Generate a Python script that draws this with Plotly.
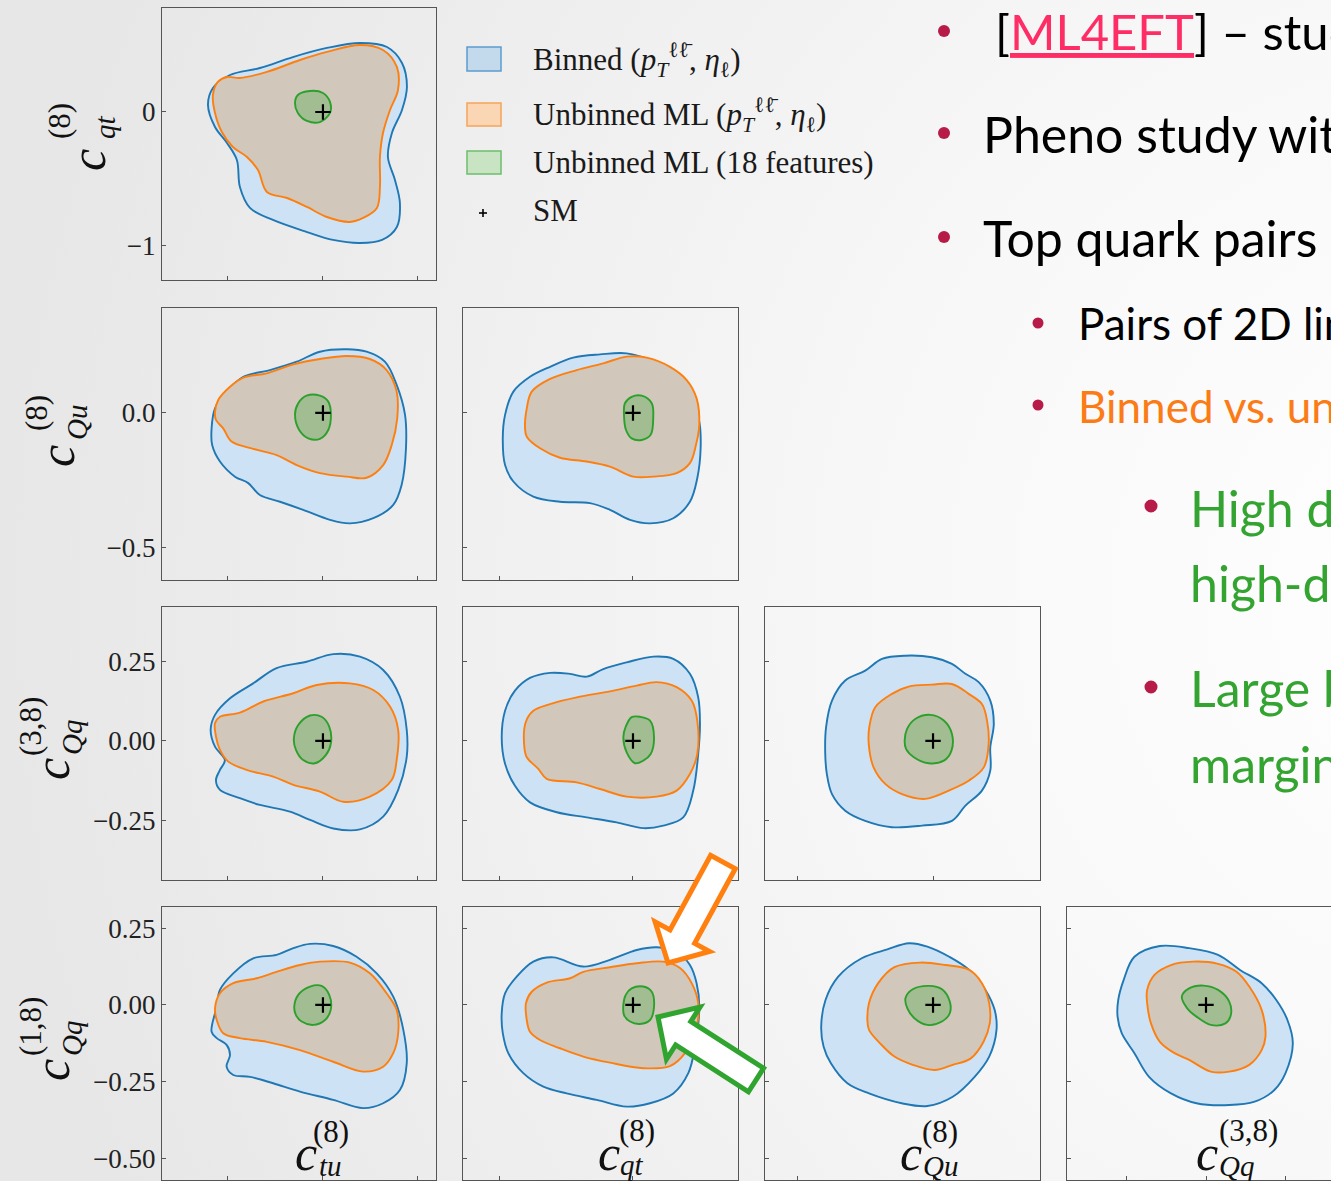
import base64
import plotly.graph_objects as go

W, H = 1331, 1181

# ---------------- data: confidence-region boundaries (data units) ----------------
# panel row 0 : x = c_tu^(8), y = c_qt^(8)
tu_qt_binned = [(-0.605, 0.052), (-0.579, 0.179), (-0.489, 0.276), (-0.332, 0.328), (-0.158, 0.410), (0.021, 0.478),
                (0.195, 0.515), (0.337, 0.485), (0.416, 0.366), (0.442, 0.187), (0.416, 0.015), (0.363, -0.157),
                (0.342, -0.336), (0.379, -0.507), (0.405, -0.679), (0.389, -0.858), (0.311, -0.955), (0.195, -0.978),
                (0.053, -0.955), (-0.084, -0.896), (-0.263, -0.806), (-0.384, -0.716), (-0.437, -0.560), (-0.453, -0.358),
                (-0.505, -0.231), (-0.568, -0.112)]
tu_qt_unbinned = [(-0.579, 0.127), (-0.553, 0.224), (-0.505, 0.261), (-0.437, 0.254), (-0.295, 0.299), (-0.121, 0.388),
                  (0.021, 0.448), (0.195, 0.500), (0.316, 0.463), (0.389, 0.336), (0.395, 0.164), (0.353, 0.015),
                  (0.316, -0.157), (0.300, -0.336), (0.300, -0.560), (0.284, -0.716), (0.211, -0.791), (0.142, -0.821),
                  (0.021, -0.784), (-0.084, -0.709), (-0.189, -0.642), (-0.295, -0.597), (-0.342, -0.433), (-0.400, -0.336),
                  (-0.474, -0.261), (-0.532, -0.149), (-0.568, -0.007)]
tu_qt_ml18 = [(-0.147, 0.067), (-0.132, 0.127), (-0.068, 0.157), (0.0, 0.142), (0.037, 0.075), (0.037, -0.007),
              (-0.016, -0.075), (-0.084, -0.067), (-0.132, -0.007)]

# row 1 : y = c_Qu^(8)
tu_Qu_binned = [(-0.586, -0.057), (-0.568, 0.017), (-0.507, 0.079), (-0.419, 0.134), (-0.279, 0.159), (-0.138, 0.190),
                (-0.016, 0.227), (0.125, 0.236), (0.230, 0.227), (0.326, 0.190), (0.388, 0.104), (0.432, -0.007),
                (0.437, -0.131), (0.414, -0.267), (0.370, -0.341), (0.265, -0.390), (0.142, -0.409), (0.037, -0.396),
                (-0.104, -0.359), (-0.226, -0.329), (-0.332, -0.304), (-0.393, -0.260), (-0.463, -0.236), (-0.542, -0.180),
                (-0.583, -0.119)]
tu_Qu_unbinned = [(-0.568, 0.005), (-0.551, 0.048), (-0.489, 0.097), (-0.419, 0.131), (-0.296, 0.147), (-0.156, 0.180),
                  (-0.016, 0.200), (0.125, 0.211), (0.247, 0.200), (0.335, 0.159), (0.388, 0.079), (0.391, -0.020),
                  (0.362, -0.119), (0.317, -0.193), (0.230, -0.240), (0.125, -0.236), (-0.016, -0.223), (-0.138, -0.193),
                  (-0.244, -0.156), (-0.367, -0.133), (-0.481, -0.106), (-0.525, -0.057), (-0.563, -0.026)]
tu_Qu_ml18 = [(-0.147, -0.007), (-0.130, 0.036), (-0.086, 0.064), (-0.016, 0.064), (0.028, 0.042), (0.042, -0.007),
              (0.028, -0.063), (-0.016, -0.096), (-0.077, -0.094), (-0.125, -0.063)]

qt_Qu_binned = [(-0.972, -0.094), (-0.955, -0.007), (-0.893, 0.079), (-0.769, 0.134), (-0.619, 0.171), (-0.446, 0.205),
                (-0.246, 0.217), (-0.047, 0.221), (0.127, 0.196), (0.301, 0.141), (0.425, 0.067), (0.495, -0.032),
                (0.505, -0.131), (0.480, -0.242), (0.425, -0.329), (0.301, -0.390), (0.127, -0.409), (-0.022, -0.396),
                (-0.172, -0.359), (-0.321, -0.334), (-0.545, -0.329), (-0.744, -0.310), (-0.893, -0.254), (-0.955, -0.193)]
qt_Qu_unbinned = [(-0.806, -0.057), (-0.793, 0.017), (-0.756, 0.079), (-0.619, 0.126), (-0.420, 0.159), (-0.222, 0.184),
                  (-0.047, 0.209), (0.102, 0.205), (0.276, 0.171), (0.401, 0.122), (0.475, 0.054), (0.495, -0.044),
                  (0.470, -0.119), (0.425, -0.186), (0.326, -0.223), (0.151, -0.236), (0.002, -0.236), (-0.172, -0.199),
                  (-0.346, -0.180), (-0.545, -0.166), (-0.694, -0.131), (-0.793, -0.088)]
qt_Qu_ml18 = [(-0.067, -0.007), (-0.060, 0.036), (-0.010, 0.060), (0.065, 0.064), (0.140, 0.036), (0.151, -0.020),
              (0.132, -0.081), (0.065, -0.100), (-0.010, -0.094), (-0.052, -0.063)]

# row 2 : y = c_Qq^(3,8)
tu_Qq38_binned = [(-0.591, 0.035), (-0.568, 0.082), (-0.489, 0.134), (-0.367, 0.181), (-0.244, 0.229), (-0.086, 0.249),
                  (0.054, 0.273), (0.195, 0.265), (0.317, 0.223), (0.405, 0.139), (0.441, 0.035), (0.441, -0.049),
                  (0.396, -0.154), (0.317, -0.238), (0.195, -0.278), (0.054, -0.275), (-0.068, -0.248), (-0.174, -0.222),
                  (-0.332, -0.201), (-0.437, -0.180), (-0.542, -0.154), (-0.563, -0.123), (-0.542, -0.091),
                  (-0.516, -0.060), (-0.568, -0.018)]
tu_Qq38_unbinned = [(-0.568, 0.056), (-0.542, 0.076), (-0.437, 0.089), (-0.314, 0.124), (-0.156, 0.150), (-0.033, 0.176),
                    (0.142, 0.181), (0.265, 0.160), (0.353, 0.108), (0.396, 0.035), (0.388, -0.060), (0.362, -0.123),
                    (0.247, -0.175), (0.107, -0.191), (-0.016, -0.159), (-0.156, -0.138), (-0.262, -0.112),
                    (-0.402, -0.091), (-0.498, -0.065), (-0.542, -0.028), (-0.563, 0.014)]
tu_Qq38_ml18 = [(-0.153, 0.008), (-0.130, 0.050), (-0.068, 0.080), (-0.007, 0.076), (0.033, 0.045), (0.042, -0.007),
                (0.016, -0.044), (-0.042, -0.070), (-0.104, -0.060), (-0.142, -0.028)]

qt_Qq38_binned = [(-0.980, 0.012), (-0.955, 0.095), (-0.881, 0.158), (-0.769, 0.198), (-0.619, 0.214), (-0.470, 0.211),
                  (-0.346, 0.202), (-0.222, 0.226), (-0.047, 0.247), (0.151, 0.265), (0.301, 0.258), (0.425, 0.211),
                  (0.487, 0.137), (0.500, 0.053), (0.487, -0.041), (0.450, -0.156), (0.375, -0.240), (0.226, -0.266),
                  (0.077, -0.274), (-0.122, -0.256), (-0.346, -0.240), (-0.569, -0.224), (-0.769, -0.193),
                  (-0.881, -0.141), (-0.955, -0.072)]
qt_Qq38_unbinned = [(-0.811, -0.020), (-0.801, 0.059), (-0.744, 0.095), (-0.619, 0.116), (-0.420, 0.137), (-0.172, 0.156),
                    (0.028, 0.174), (0.177, 0.185), (0.326, 0.169), (0.438, 0.127), (0.480, 0.064), (0.480, -0.041),
                    (0.425, -0.104), (0.326, -0.156), (0.177, -0.175), (-0.047, -0.175), (-0.246, -0.151),
                    (-0.420, -0.130), (-0.644, -0.119), (-0.707, -0.088), (-0.793, -0.051)]
qt_Qq38_ml18 = [(-0.072, 0.012), (-0.054, 0.045), (-0.010, 0.075), (0.052, 0.076), (0.127, 0.064), (0.157, 0.012),
                (0.132, -0.041), (0.077, -0.062), (0.015, -0.070), (-0.047, -0.036)]

Qu_Qq38_binned = [(-0.399, -0.041), (-0.396, 0.043), (-0.374, 0.127), (-0.325, 0.190), (-0.251, 0.221), (-0.189, 0.258),
                  (-0.103, 0.268), (-0.004, 0.263), (0.070, 0.242), (0.120, 0.211), (0.169, 0.185), (0.212, 0.127),
                  (0.225, 0.053), (0.212, -0.020), (0.212, -0.093), (0.181, -0.156), (0.120, -0.203), (0.070, -0.251),
                  (-0.041, -0.266), (-0.152, -0.271), (-0.251, -0.251), (-0.325, -0.219), (-0.374, -0.167),
                  (-0.393, -0.104)]
Qu_Qq38_unbinned = [(-0.238, -0.009), (-0.236, 0.043), (-0.214, 0.106), (-0.152, 0.148), (-0.090, 0.171), (-0.004, 0.177),
                    (0.070, 0.179), (0.132, 0.148), (0.181, 0.116), (0.200, 0.064), (0.206, -0.009), (0.188, -0.083),
                    (0.132, -0.125), (0.058, -0.156), (-0.029, -0.182), (-0.115, -0.167), (-0.177, -0.135),
                    (-0.220, -0.083)]
Qu_Qq38_ml18 = [(-0.105, 0.001), (-0.096, 0.038), (-0.066, 0.069), (-0.010, 0.082), (0.040, 0.064), (0.070, 0.022),
                (0.068, -0.031), (0.040, -0.062), (-0.016, -0.070), (-0.071, -0.051), (-0.100, -0.025)]

# row 3 : y = c_Qq^(1,8)
tu_Qq18_binned = [(-0.586, -0.087), (-0.559, -0.006), (-0.542, 0.049), (-0.472, 0.103), (-0.367, 0.152), (-0.244, 0.163),
                  (-0.156, 0.185), (-0.068, 0.199), (0.054, 0.192), (0.177, 0.157), (0.283, 0.103), (0.370, 0.027),
                  (0.423, -0.081), (0.441, -0.190), (0.405, -0.277), (0.317, -0.320), (0.212, -0.336), (0.054, -0.309),
                  (-0.121, -0.282), (-0.262, -0.255), (-0.384, -0.234), (-0.472, -0.228), (-0.507, -0.201),
                  (-0.489, -0.163), (-0.507, -0.130), (-0.559, -0.108)]
tu_Qq18_unbinned = [(-0.559, -0.049), (-0.568, -0.011), (-0.542, 0.038), (-0.472, 0.071), (-0.349, 0.087), (-0.244, 0.108),
                    (-0.121, 0.130), (-0.016, 0.141), (0.142, 0.138), (0.247, 0.103), (0.335, 0.038), (0.388, -0.016),
                    (0.396, -0.092), (0.370, -0.157), (0.317, -0.201), (0.212, -0.217), (0.054, -0.185), (-0.121, -0.147),
                    (-0.296, -0.120), (-0.437, -0.108), (-0.525, -0.092)]
tu_Qq18_ml18 = [(-0.151, -0.006), (-0.130, 0.033), (-0.068, 0.060), (-0.007, 0.062), (0.033, 0.033), (0.041, -0.016),
                (0.011, -0.049), (-0.051, -0.065), (-0.112, -0.054), (-0.142, -0.033)]

qt_Qq18_binned = [(-0.980, -0.027), (-0.955, 0.038), (-0.868, 0.092), (-0.744, 0.141), (-0.595, 0.155), (-0.371, 0.125),
                  (-0.172, 0.147), (0.028, 0.179), (0.177, 0.188), (0.326, 0.174), (0.425, 0.130), (0.475, 0.071),
                  (0.495, -0.006), (0.463, -0.136), (0.413, -0.222), (0.301, -0.288), (0.127, -0.320), (-0.047, -0.331),
                  (-0.271, -0.309), (-0.495, -0.288), (-0.669, -0.266), (-0.819, -0.222), (-0.931, -0.157),
                  (-0.972, -0.092)]
qt_Qq18_unbinned = [(-0.793, -0.049), (-0.799, 0.006), (-0.756, 0.043), (-0.644, 0.073), (-0.470, 0.087), (-0.371, 0.108),
                    (-0.172, 0.123), (0.028, 0.136), (0.226, 0.141), (0.351, 0.120), (0.438, 0.071), (0.487, 0.006),
                    (0.475, -0.071), (0.388, -0.157), (0.276, -0.199), (0.077, -0.206), (-0.172, -0.188),
                    (-0.371, -0.168), (-0.545, -0.141), (-0.694, -0.114), (-0.769, -0.087)]
qt_Qq18_ml18 = [(-0.072, 0.000), (-0.054, 0.033), (-0.010, 0.054), (0.077, 0.060), (0.140, 0.043), (0.157, -0.006),
                (0.127, -0.049), (0.052, -0.062), (-0.022, -0.054), (-0.067, -0.033)]

Qu_Qq18_binned = [(-0.414, -0.071), (-0.398, 0.016), (-0.351, 0.092), (-0.264, 0.152), (-0.169, 0.181), (-0.089, 0.201),
                  (-0.021, 0.190), (0.060, 0.157), (0.134, 0.114), (0.194, 0.049), (0.228, -0.016), (0.235, -0.081),
                  (0.208, -0.168), (0.154, -0.234), (0.073, -0.299), (-0.021, -0.329), (-0.116, -0.320),
                  (-0.237, -0.288), (-0.317, -0.255), (-0.378, -0.190), (-0.405, -0.136)]
Qu_Qq18_unbinned = [(-0.243, -0.049), (-0.237, 0.006), (-0.203, 0.071), (-0.143, 0.123), (-0.048, 0.138), (0.046, 0.130),
                    (0.134, 0.114), (0.181, 0.071), (0.208, 0.006), (0.210, -0.060), (0.187, -0.120), (0.140, -0.174),
                    (0.073, -0.195), (0.006, -0.212), (-0.075, -0.195), (-0.143, -0.168), (-0.196, -0.125),
                    (-0.237, -0.081)]
Qu_Qq18_ml18 = [(-0.102, 0.022), (-0.075, 0.051), (-0.014, 0.062), (0.033, 0.051), (0.062, 0.011), (0.062, -0.027),
                (0.033, -0.054), (-0.021, -0.065), (-0.069, -0.043), (-0.095, -0.011)]

Qq38_Qq18_binned = [(-0.276, 0.016), (-0.259, 0.081), (-0.225, 0.157), (-0.145, 0.192), (-0.053, 0.185), (0.038, 0.163),
                    (0.107, 0.114), (0.175, 0.071), (0.221, 0.016), (0.256, -0.049), (0.273, -0.125), (0.250, -0.222),
                    (0.215, -0.277), (0.153, -0.315), (0.073, -0.326), (-0.030, -0.320), (-0.110, -0.288),
                    (-0.179, -0.234), (-0.225, -0.157), (-0.265, -0.092), (-0.278, -0.038)]
Qq38_Qq18_unbinned = [(-0.185, 0.049), (-0.162, 0.098), (-0.110, 0.130), (-0.042, 0.141), (0.038, 0.134), (0.096, 0.108),
                      (0.136, 0.060), (0.175, -0.016), (0.187, -0.103), (0.175, -0.147), (0.136, -0.195), (0.073, -0.217),
                      (0.015, -0.217), (-0.053, -0.179), (-0.099, -0.157), (-0.145, -0.120), (-0.173, -0.060),
                      (-0.185, 0.006)]
Qq38_Qq18_ml18 = [(-0.076, 0.027), (-0.053, 0.054), (-0.008, 0.063), (0.038, 0.049), (0.073, 0.011), (0.078, -0.033),
                  (0.061, -0.060), (0.015, -0.065), (-0.030, -0.038), (-0.059, -0.011)]

SM_POINT = (0.0, 0.0)

COL_VARS = ["tu", "qt", "Qu", "Qq38"]
ROW_VARS = ["qt", "Qu", "Qq38", "Qq18"]
X_RANGE = {"tu": [-0.847, 0.595], "qt": [-1.269, 0.784], "Qu": [-0.622, 0.396], "Qq38": [-0.437, 0.393]}
Y_RANGE = {"qt": [-1.254, 0.776], "Qu": [-0.619, 0.389], "Qq38": [-0.437, 0.421], "Qq18": [-0.570, 0.319]}
TICKS = {"tu": [-0.5, 0, 0.5], "qt": [-1, 0], "Qu": [-0.5, 0.0], "Qq38": [-0.25, 0, 0.25],
         "Qq18": [-0.5, -0.25, 0, 0.25]}
TICK_TEXT = {"qt": ["\u22121", "0"], "Qu": ["\u22120.5", "0.0"], "Qq38": ["\u22120.25", "0.00", "0.25"],
             "Qq18": ["\u22120.50", "\u22120.25", "0.00", "0.25"]}
VAR_SUB = {"tu": "tu", "qt": "qt", "Qu": "Qu", "Qq38": "Qq", "Qq18": "Qq"}
VAR_SUP = {"tu": "(8)", "qt": "(8)", "Qu": "(8)", "Qq38": "(3,8)", "Qq18": "(1,8)"}

PANELS = [
    (0, 0, tu_qt_binned, tu_qt_unbinned, tu_qt_ml18),
    (1, 0, tu_Qu_binned, tu_Qu_unbinned, tu_Qu_ml18),
    (1, 1, qt_Qu_binned, qt_Qu_unbinned, qt_Qu_ml18),
    (2, 0, tu_Qq38_binned, tu_Qq38_unbinned, tu_Qq38_ml18),
    (2, 1, qt_Qq38_binned, qt_Qq38_unbinned, qt_Qq38_ml18),
    (2, 2, Qu_Qq38_binned, Qu_Qq38_unbinned, Qu_Qq38_ml18),
    (3, 0, tu_Qq18_binned, tu_Qq18_unbinned, tu_Qq18_ml18),
    (3, 1, qt_Qq18_binned, qt_Qq18_unbinned, qt_Qq18_ml18),
    (3, 2, Qu_Qq18_binned, Qu_Qq18_unbinned, Qu_Qq18_ml18),
    (3, 3, Qq38_Qq18_binned, Qq38_Qq18_unbinned, Qq38_Qq18_ml18),
]

LEGEND_LABELS = [
    "Binned (<i>p</i><sub><i>T</i></sub><sup>\u2113\u2113\u0304</sup>, <i>\u03b7</i><sub>\u2113</sub>)",
    "Unbinned ML (<i>p</i><sub><i>T</i></sub><sup>\u2113\u2113\u0304</sup>, <i>\u03b7</i><sub>\u2113</sub>)",
    "Unbinned ML (18 features)",
    "SM",
]

SLIDE_TEXT = [
    "[<span style='color:#fe2d66'><u>ML4EFT</u></span>] \u2013 study",
    "Pheno study with",
    "Top quark pairs",
    "Pairs of 2D limits",
    "<span style='color:#fb7b16'>Binned vs. unbinned</span>",
    "<span style='color:#34a431'>High dimensional</span>",
    "<span style='color:#34a431'>high-dimensional</span>",
    "<span style='color:#34a431'>Large boost</span>",
    "<span style='color:#34a431'>marginalised</span>",
]

# ---------------- geometry / style ----------------
COL_PX = [(162, 436), (463, 738), (765, 1040), (1067, 1331)]
ROW_PX = [(8, 280), (308, 580), (607, 880), (907, 1180)]
LINE_COLS = ["#1f77b4", "#ff7f0e", "#2ca02c"]
FILL_COLS = ["#cde3f5", "#d1c7ba", "#a3bd93"]
AX = "#555555"
SERIF = "Liberation Serif"
SANS = "Lato"


def px(x, y):
    return x / W, 1 - y / H


fig = go.Figure()
layout_axes = {}
for k, (r, c, *conts) in enumerate(PANELS, start=1):
    xa = "x" if k == 1 else f"x{k}"
    ya = "y" if k == 1 else f"y{k}"
    for pts, lc, fc in zip(conts, LINE_COLS, FILL_COLS):
        xs = [p[0] for p in pts] + [pts[0][0]]
        ys = [p[1] for p in pts] + [pts[0][1]]
        fig.add_trace(go.Scatter(x=xs, y=ys, mode="lines", fill="toself", fillcolor=fc,
                                 line=dict(color=lc, width=1.9, shape="spline", smoothing=1.0),
                                 xaxis=xa, yaxis=ya, hoverinfo="skip", showlegend=False))
    fig.add_trace(go.Scatter(x=[SM_POINT[0]], y=[SM_POINT[1]], mode="markers",
                             marker=dict(symbol="cross-thin", size=11, line=dict(color="black", width=2.2)),
                             xaxis=xa, yaxis=ya, hoverinfo="skip", showlegend=False))
    xv, yv = COL_VARS[c], ROW_VARS[r]
    x0, x1 = COL_PX[c]
    y0, y1 = ROW_PX[r]
    common = dict(showgrid=False, zeroline=False, showline=True, linecolor=AX, linewidth=1.3,
                  ticks="inside", ticklen=4, tickwidth=1.2, tickcolor=AX, fixedrange=True)
    layout_axes["xaxis" if k == 1 else f"xaxis{k}"] = dict(
        common, domain=[x0 / W, x1 / W], range=X_RANGE[xv], tickvals=TICKS[xv], showticklabels=False,
        mirror=True, anchor=ya)
    yax = dict(common, domain=[1 - y1 / H, 1 - y0 / H], range=Y_RANGE[yv], tickvals=TICKS[yv],
               mirror=(c != 3), anchor=xa)
    if c == 0:
        yax.update(ticktext=TICK_TEXT[yv], showticklabels=True,
                   tickfont=dict(family=SERIF, size=27, color="#222222"))
    else:
        yax.update(showticklabels=False)
    layout_axes["yaxis" if k == 1 else f"yaxis{k}"] = yax

annotations = []
shapes = []


def ann(text, x, y, size, family, color="#111111", xanchor="center", yanchor="middle", angle=0):
    ax_, ay_ = px(x, y)
    annotations.append(dict(text=text, x=ax_, y=ay_, xref="paper", yref="paper", showarrow=False,
                            font=dict(size=size, family=family, color=color), xanchor=xanchor,
                            yanchor=yanchor, textangle=angle))


# axis titles: big italic c, subscript and stacked superscript as separate pieces
C_SIZE, SUB_SIZE, SUP_SIZE = 50, 29, 31
# y titles (rotated, reading upwards): centres of c, subscript, superscript
YT_C = [(88, 160), (57, 456), (52, 769), (52, 1070)]
YT_SUB = [(105, 127), (77, 423), (72, 738), (72, 1039)]
YT_SUP = [(59, 121), (36, 413), (30, 727), (30, 1027)]
for r, v in enumerate(ROW_VARS):
    ann("<i>c</i>", *YT_C[r], C_SIZE, SERIF, angle=-90)
    ann(f"<i>{VAR_SUB[v]}</i>", *YT_SUB[r], SUB_SIZE, SERIF, angle=-90)
    ann(VAR_SUP[v], *YT_SUP[r], SUP_SIZE, SERIF, angle=-90)
# x titles (inside the bottom of the last row)
XT_C = [(306, 1153), (609, 1153), (911, 1153), (1207, 1153)]
XT_SUB = [(330, 1166), (632, 1165), (941, 1166), (1236, 1166)]
XT_SUP = [(331, 1131), (637, 1130), (940, 1131), (1248, 1130)]
for c, v in enumerate(COL_VARS):
    ann("<i>c</i>", *XT_C[c], C_SIZE, SERIF)
    ann(f"<i>{VAR_SUB[v]}</i>", *XT_SUB[c], SUB_SIZE, SERIF)
    ann(VAR_SUP[v], *XT_SUP[c], SUP_SIZE, SERIF)

# legend
LEG_PATCH = [(47, 71), (103, 126), (151, 174)]
LEG_FILL = ["#c3d9ec", "#fbd6b4", "#c8e4c3"]
LEG_EDGE = ["#5d9ccf", "#f7a45a", "#6cbd6c"]
for (ya0, ya1), fc, ec in zip(LEG_PATCH, LEG_FILL, LEG_EDGE):
    a0, b0 = px(467, ya1)
    a1, b1 = px(501, ya0)
    shapes.append(dict(type="rect", xref="paper", yref="paper", x0=a0, y0=b0, x1=a1, y1=b1,
                       fillcolor=fc, line=dict(color=ec, width=1.5)))
for (xa0, ya0), (xa1, ya1) in [((479, 213), (487, 213)), ((483, 209), (483, 217))]:
    a0, b0 = px(xa0, ya0)
    a1, b1 = px(xa1, ya1)
    shapes.append(dict(type="line", xref="paper", yref="paper", x0=a0, y0=b0, x1=a1, y1=b1,
                       line=dict(color="black", width=1.6)))
LEG_Y = [60, 115, 163, 210]
for lab, y in zip(LEGEND_LABELS, LEG_Y):
    ann(lab, 531, y, 31, SERIF, color="#1a1a1a", xanchor="left")

# slide bullets and text
BULLETS = [(944, 31, 6), (944, 133, 6), (944, 237, 6), (1038, 323, 5.5), (1038, 405, 5.5),
           (1151, 506, 6.5), (1151, 687, 6.5)]
for bx, by, rad in BULLETS:
    a0, b0 = px(bx - rad, by + rad)
    a1, b1 = px(bx + rad, by - rad)
    shapes.append(dict(type="circle", xref="paper", yref="paper", x0=a0, y0=b0, x1=a1, y1=b1,
                       fillcolor="#b71c48", line=dict(width=0)))
TEXT_POS = [(993, 31, 49), (981, 134, 50), (981, 238, 50), (1076, 323, 44), (1076, 406, 44),
            (1188, 508, 50), (1188, 583, 50), (1188, 688, 50), (1188, 764, 50)]
for txt, (tx, ty, fs) in zip(SLIDE_TEXT, TEXT_POS):
    ann(txt, tx, ty, fs, SANS, color="#000000", xanchor="left")


# arrows (white body, coloured outline)
def arrow(tail, tip, color, sw=28, hw=62, hl=30):
    dx, dy = tip[0] - tail[0], tip[1] - tail[1]
    L = (dx * dx + dy * dy) ** 0.5
    ux, uy = dx / L, dy / L
    nx, ny = -uy, ux
    bx, by = tip[0] - ux * hl, tip[1] - uy * hl
    pts = [(tail[0] + nx * sw / 2, tail[1] + ny * sw / 2), (bx + nx * sw / 2, by + ny * sw / 2),
           (bx + nx * hw / 2, by + ny * hw / 2), tip, (bx - nx * hw / 2, by - ny * hw / 2),
           (bx - nx * sw / 2, by - ny * sw / 2), (tail[0] - nx * sw / 2, tail[1] - ny * sw / 2)]
    path = "M " + " L ".join(f"{px(x, y)[0]:.5f},{px(x, y)[1]:.5f}" for x, y in pts) + " Z"
    shapes.append(dict(type="path", xref="paper", yref="paper", path=path, fillcolor="white",
                       line=dict(color=color, width=5)))


arrow((723, 862), (668, 963), "#ff800e")
arrow((756, 1080), (658, 1017), "#2fa52f")

# slide background gradient
svg = (f'<svg xmlns="http://www.w3.org/2000/svg" width="{W}" height="{H}" viewBox="0 0 {W} {H}">'
       '<defs><radialGradient id="g" cx="1500" cy="600" r="1500" gradientUnits="userSpaceOnUse">'
       '<stop offset="0" stop-color="#ffffff"/><stop offset="0.4" stop-color="#f8f8f8"/>'
       '<stop offset="0.75" stop-color="#eeeeee"/><stop offset="1" stop-color="#e7e7e7"/>'
       '</radialGradient></defs>'
       f'<rect width="{W}" height="{H}" fill="url(#g)"/></svg>')
bg = "data:image/svg+xml;base64," + base64.b64encode(svg.encode()).decode()

fig.update_layout(
    width=W, height=H, margin=dict(l=0, r=0, t=0, b=0),
    paper_bgcolor="#eeeeee", plot_bgcolor="rgba(0,0,0,0)",
    showlegend=False, annotations=annotations, shapes=shapes,
    images=[dict(source=bg, xref="paper", yref="paper", x=0, y=1, sizex=1, sizey=1,
                 sizing="stretch", xanchor="left", yanchor="top", layer="below")],
    **layout_axes,
)

fig.write_html("out.html", config={"displayModeBar": False},
               post_script="document.body.style.margin='0';document.body.style.overflow='hidden';")
